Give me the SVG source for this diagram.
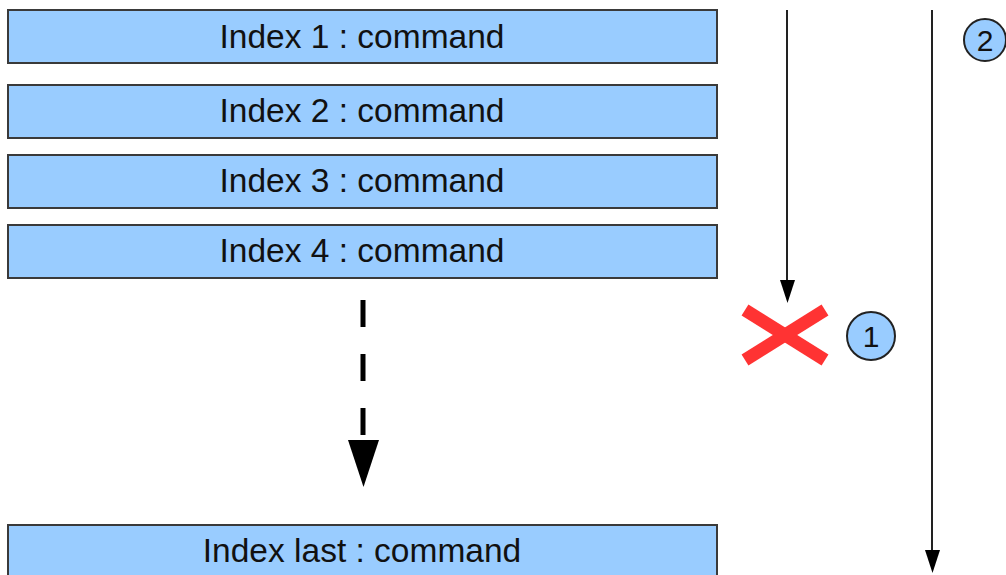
<svg xmlns="http://www.w3.org/2000/svg" width="1006" height="575" viewBox="0 0 1006 575">
<style>
.box{fill:#99ccff;stroke:#3a3a3a;stroke-width:2}
.lbl{font-family:"Liberation Sans",Arial,sans-serif;font-size:33.5px;fill:#111;text-anchor:middle}
.circ{fill:#99ccff;stroke:#222;stroke-width:2}
.num{font-family:"Liberation Sans",Arial,sans-serif;font-size:30px;fill:#111;text-anchor:middle}
.ln{stroke:#222;stroke-width:2;fill:none}
</style>
<rect width="1006" height="575" fill="#fff"/>
<g id="node1"><rect class="box" x="8" y="10" width="709" height="53"/><text class="lbl" x="362" y="48">Index 1 : command</text></g>
<g id="node2"><rect class="box" x="8" y="85" width="709" height="53"/><text class="lbl" x="362" y="122">Index 2 : command</text></g>
<g id="node3"><rect class="box" x="8" y="155" width="709" height="53"/><text class="lbl" x="362" y="192">Index 3 : command</text></g>
<g id="node4"><rect class="box" x="8" y="225" width="709" height="53"/><text class="lbl" x="362" y="262">Index 4 : command</text></g>
<g id="nodeLast"><rect class="box" x="8" y="525" width="709" height="60"/><text class="lbl" x="362" y="562">Index last : command</text></g>
<g id="connectors">
<line x1="363" y1="300" x2="363" y2="440" stroke="#000" stroke-width="5" stroke-dasharray="27,27"/>
<path d="M348,440 L379,440 L363.5,487 Z" fill="#000"/>
<line class="ln" x1="787" y1="10" x2="787" y2="282"/>
<path d="M780,280 L795,280 L787.5,303 Z" fill="#000"/>
<line class="ln" x1="932" y1="10" x2="932" y2="552"/>
<path d="M925,550 L940,550 L932.5,573 Z" fill="#000"/>
</g>
<g id="cross">
<line x1="745" y1="310" x2="825" y2="360" stroke="#ff3333" stroke-width="13"/>
<line x1="745" y1="360" x2="825" y2="310" stroke="#ff3333" stroke-width="13"/>
</g>
<g id="badge1"><circle class="circ" cx="871" cy="336" r="24"/><text class="num" x="871" y="347">1</text></g>
<g id="badge2"><circle class="circ" cx="985" cy="40" r="21"/><text class="num" x="985" y="51">2</text></g>
</svg>
